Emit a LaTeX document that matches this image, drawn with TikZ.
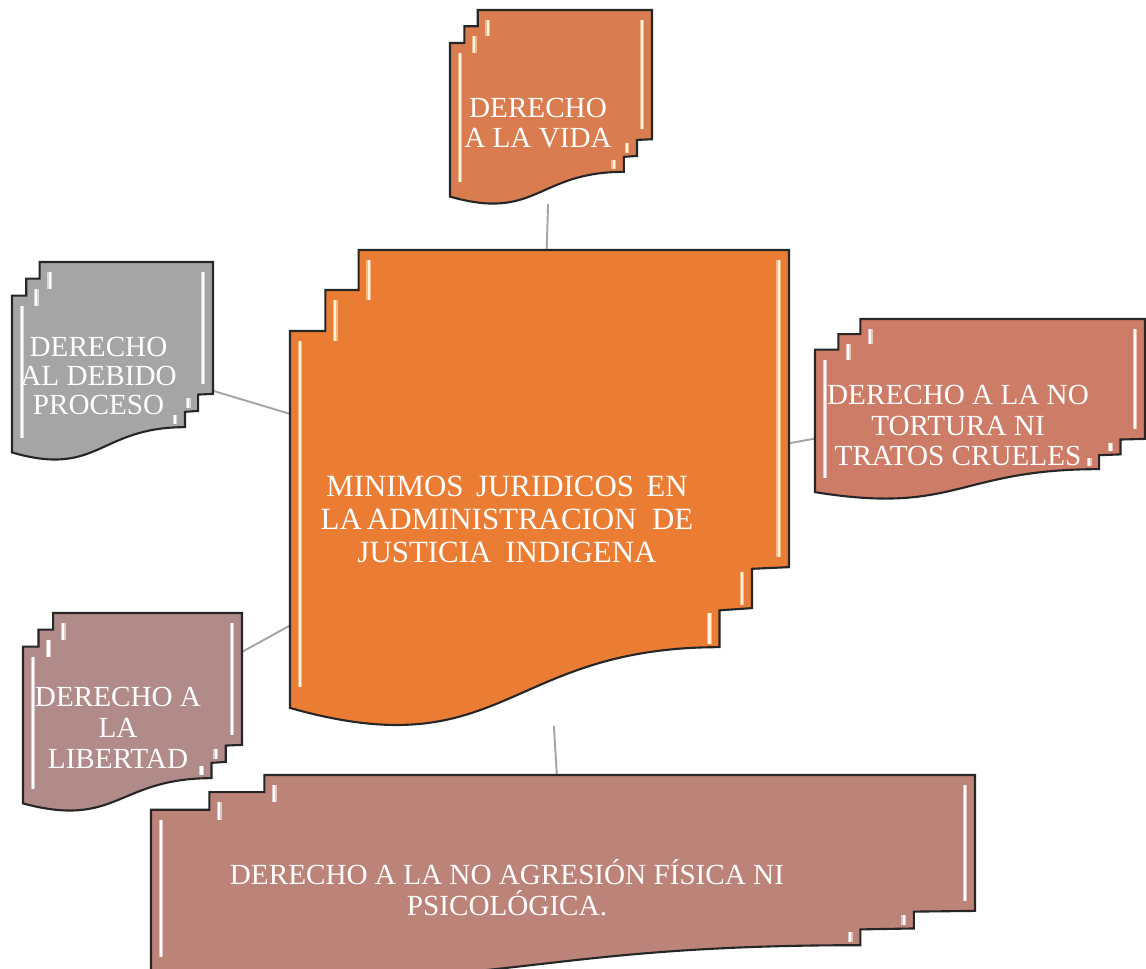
\documentclass[tikz,border=0pt]{standalone}
\usepackage{fontspec}
\setmainfont{Liberation Serif}
\usetikzlibrary{backgrounds}
\definecolor{cmain}{RGB}{234,125,51}
\definecolor{cvida}{RGB}{217,124,79}
\definecolor{cdebido}{RGB}{165,165,165}
\definecolor{ctortura}{RGB}{205,124,103}
\definecolor{clibertad}{RGB}{177,139,137}
\definecolor{cagresion}{RGB}{188,131,121}
\definecolor{cconn}{RGB}{165,165,165}
\definecolor{cglow}{RGB}{255,236,190}
\tikzset{
  docfill/.style={fill=#1, draw=black!85, line width=1.2pt, line join=miter},
  docglow/.style={draw=#1, line width=2.8pt, line cap=butt, opacity=0.55},
  docglint/.style={draw=#1, line width=1.2pt, line cap=butt, opacity=0.95},
  conn/.style={draw=cconn, line width=1.1pt},
  doctext/.style={text=white, align=center, inner sep=0pt},
  bbox/.style={inner sep=0pt, outer sep=0pt, draw=none, rectangle}
}
% one bevel strip: #1 colour, #2 x, #3 y-from, #4 y-to (shape units)
\newcommand{\mdstrip}[4]{%
  \draw[docglow=#1] ({#2},{#3}) -- ({#2},{#4});
  \draw[docglint=#1!40!white] ({#2},{#3}) -- ({#2},{#4});}
% #1 name, #2 x0, #3 y0, #4 x1, #5 y1 (pixels, y downward), #6 fill colour, #7 glint colour
\newcommand{\mdoc}[7]{%
  \pgfmathsetmacro\mdw{(#4-#2)/100*0.02}%
  \pgfmathsetmacro\mdh{(#5-#3)/100*0.02}%
  \pgfmathsetmacro\mdwc{(#4-#2)*0.02}%
  \pgfmathsetmacro\mdhc{(#5-#3)*0.02}%
  \pgfmathsetmacro\mdix{10*100/(#4-#2)}%
  \pgfmathsetmacro\mdiy{10*100/(#5-#3)}%
  \pgfmathsetmacro\mdiz{3*100/(#5-#3)}%
  \node[bbox, minimum width=\mdwc cm, minimum height=\mdhc cm] (#1) at ({(#2+#4)/2},{(#3+#5)/2}) {};
  \begin{scope}[shift={(#2,#3)}, x=\mdw cm, y=-\mdh cm]
    \path[docfill=#6] (0,96.21) .. controls (43.05,108.99) and (43.05,83.44) .. (86.09,83.44)
      -- (86.09,75.70) -- (92.59,75.24) -- (92.59,66.98) -- (100,66.63) -- (100,0)
      -- (13.76,0) -- (13.76,8.40) -- (7.09,8.40) -- (7.09,17.01) -- (0,17.01) -- cycle;
    \mdstrip{#7}{\mdix}{17.01+\mdiy}{94-\mdiy}
    \mdstrip{#7}{7.09+\mdix}{8.40+\mdiy}{17.01+\mdiy}
    \mdstrip{#7}{13.76+\mdix}{\mdiy}{8.40+\mdiy}
    \mdstrip{#7}{100-\mdix}{\mdiy}{66.63-\mdiy}
    \mdstrip{#7}{92.59-\mdix}{66.98+\mdiz}{75.24-\mdiz}
    \mdstrip{#7}{86.09-\mdix}{75.70+\mdiz}{83.44-\mdiz}
  \end{scope}}
\begin{document}
\begin{tikzpicture}[x=0.02cm, y=-0.02cm]
  \useasboundingbox (0,0) rectangle (1146,969);
  % shapes
  \mdoc{vida}{450}{10}{652}{204}{cvida}{cglow}
  \mdoc{debido}{12}{262}{213}{460}{cdebido}{white}
  \mdoc{tortura}{815}{319}{1145}{499}{ctortura}{white}
  \mdoc{libertad}{23}{613}{242}{811}{clibertad}{white}
  \mdoc{agresion}{151}{775}{975}{979}{cagresion}{white}
  \mdoc{main}{290}{250}{789}{726}{cmain}{cglow}
  % background and connectors
  \begin{scope}[on background layer]
    \fill[white] (0,0) rectangle (1146,969);
    \draw[conn] (main) -- (vida);
    \draw[conn] (main) -- (debido);
    \draw[conn] (main) -- (tortura);
    \draw[conn] (main) -- (libertad);
    \draw[conn] (main) -- (agresion);
  \end{scope}
  % texts
  \node[doctext, font=\fontsize{17.6}{18.7}\selectfont] (tmain) at (507,519.5)
    {MINIMOS\hspace{0.4em}JURIDICOS\hspace{0.4em}EN\\LA\,ADMINISTRACION\hspace{0.5em}DE\\JUSTICIA\hspace{0.45em}INDIGENA};
  \node[doctext, font=\fontsize{16.6}{17}\selectfont] (tvida) at (538,123.5)
    {DERECHO\\A LA VIDA};
  \node[doctext, font=\fontsize{16.6}{16.4}\selectfont] (tdebido) at (98.5,376)
    {DERECHO\\AL DEBIDO\\PROCESO};
  \node[doctext, font=\fontsize{16.6}{17.6}\selectfont] (ttortura) at (958,425.5)
    {DERECHO A LA NO\\TORTURA NI\\TRATOS CRUELES};
  \node[doctext, font=\fontsize{16.6}{17.6}\selectfont] (tlibertad) at (118,727.5)
    {DERECHO A\\LA\\LIBERTAD};
  \node[doctext, font=\fontsize{16.6}{17.6}\selectfont] (tagresion) at (507,888)
    {DERECHO A LA NO AGRESIÓN FÍSICA NI\\PSICOLÓGICA.};
\end{tikzpicture}
\end{document}
